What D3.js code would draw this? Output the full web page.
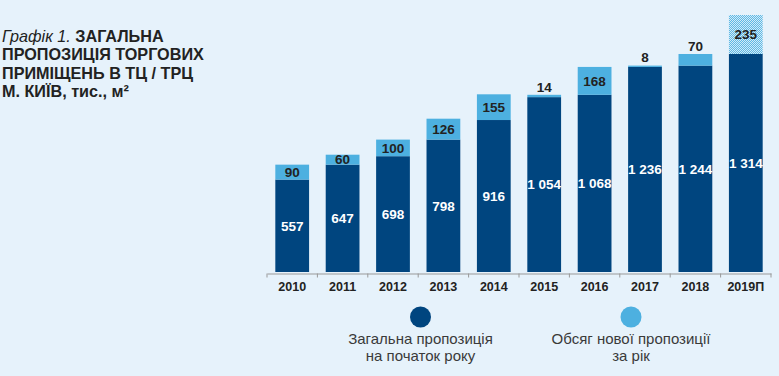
<!DOCTYPE html>
<html>
<head>
<meta charset="utf-8">
<script src="https://cdn.jsdelivr.net/npm/d3@7"></script>
<style>
  body { margin: 0; background: #e6f2fb; }
  svg { display: block; font-family: "Liberation Sans", Arial, sans-serif; }
</style>
</head>
<body>
<svg id="chart" width="779" height="376"></svg>
<script>
// Дані графіка
const years = ["2010", "2011", "2012", "2013", "2014", "2015", "2016", "2017", "2018", "2019П"];
const baseSupply = [557, 647, 698, 798, 916, 1054, 1068, 1236, 1244, 1314];
const newSupply = [90, 60, 100, 126, 155, 14, 168, 8, 70, 235];
const labelsAbove = ["2015", "2017", "2018"];
const forecastYear = "2019П";
const legendItems = [
  ["Загальна пропозиція", "на початок року"],
  ["Обсяг нової пропозиції", "за рік"]
];

const DARK = "#00457f", LIGHT = "#4db0e0", TEXT = "#222";
const fmt = v => d3.format(",")(v).replace(/,/g, " ");

const svg = d3.select("#chart");

// патерн для прогнозу
const pat = svg.append("defs").append("pattern")
  .attr("id", "checker").attr("width", 2).attr("height", 2)
  .attr("patternUnits", "userSpaceOnUse");
pat.append("rect").attr("width", 2).attr("height", 2).attr("fill", "#5fb8e4");
pat.append("rect").attr("width", 1).attr("height", 1).attr("fill", "#d2ebf8");
pat.append("rect").attr("x", 1).attr("y", 1).attr("width", 1).attr("height", 1).attr("fill", "#d2ebf8");

// Заголовок
const TITLE_SIZE = 16.2;
const title = svg.append("text").attr("x", 2).attr("y", 42)
  .attr("font-size", TITLE_SIZE).attr("fill", TEXT);
const titleLines = ["ЗАГАЛЬНА", "ПРОПОЗИЦІЯ ТОРГОВИХ", "ПРИМІЩЕНЬ В ТЦ / ТРЦ", "М. КИЇВ, тис., м²"];
title.append("tspan").attr("font-style", "italic").text("Графік 1. ");
title.append("tspan").attr("font-weight", "bold").text(titleLines[0]);
titleLines.slice(1).forEach((t, i) => {
  svg.append("text").attr("x", 2).attr("y", 60.3 + i * 18.3)
    .attr("font-size", TITLE_SIZE).attr("font-weight", "bold").attr("fill", TEXT).text(t);
});

// Шкали
const x = d3.scaleBand().domain(years).range([267, 771]).paddingInner(0.33).paddingOuter(0.165);
const y = d3.scaleLinear().domain([0, 1549]).range([272, 15]);

const data = years.map((yr, i) => ({ yr, base: baseSupply[i], add: newSupply[i] }));

const g = svg.append("g");

// Вісь
const axis = svg.append("g").attr("transform", "translate(0,273.5)")
  .call(d3.axisBottom(x).tickSize(0).tickPadding(9));
axis.select(".domain").attr("stroke", "#999");
axis.selectAll(".tick text").attr("font-size", 12.5).attr("font-weight", "bold")
  .attr("fill", TEXT).attr("font-family", "Liberation Sans, Arial, sans-serif");
const step = x.step();
const tickPos = years.map(yr => x(yr) - x.paddingInner() * step / 2).concat([x(years[years.length - 1]) + x.bandwidth() + x.paddingInner() * step / 2]);
axis.selectAll(".sep").data(tickPos).join("line").attr("class", "sep")
  .attr("x1", d => d).attr("x2", d => d).attr("y1", 0).attr("y2", 4).attr("stroke", "#999");

// Стовпчики
g.selectAll(".base").data(data).join("rect")
  .attr("x", d => x(d.yr)).attr("width", x.bandwidth())
  .attr("y", d => y(d.base)).attr("height", d => y(0) - y(d.base))
  .attr("fill", DARK);

g.selectAll(".add").data(data).join("rect")
  .attr("x", d => x(d.yr)).attr("width", x.bandwidth())
  .attr("y", d => y(d.base + d.add)).attr("height", d => y(d.base) - y(d.base + d.add))
  .attr("fill", d => d.yr === forecastYear ? "url(#checker)" : LIGHT);

// Підписи
g.selectAll(".lblBase").data(data).join("text")
  .attr("x", d => x(d.yr) + x.bandwidth() / 2)
  .attr("y", d => (y(0) + y(d.base)) / 2).attr("dy", "0.35em")
  .attr("text-anchor", "middle").attr("font-size", 13.5).attr("font-weight", "bold")
  .attr("fill", "#fff").text(d => fmt(d.base));

g.selectAll(".lblAdd").data(data).join("text")
  .attr("x", d => x(d.yr) + x.bandwidth() / 2)
  .attr("y", d => labelsAbove.includes(d.yr) ? y(d.base + d.add) - 8 : (y(d.base) + y(d.base + d.add)) / 2)
  .attr("dy", "0.35em")
  .attr("text-anchor", "middle").attr("font-size", 13.5).attr("font-weight", "bold")
  .attr("fill", TEXT).text(d => fmt(d.add));

// Легенда
const legX = [420.5, 631];
[DARK, LIGHT].forEach((c, i) => {
  svg.append("circle").attr("cx", legX[i]).attr("cy", 317).attr("r", 10.5).attr("fill", c);
  legendItems[i].forEach((t, j) => {
    svg.append("text").attr("x", legX[i]).attr("y", 344 + j * 16.5)
      .attr("text-anchor", "middle").attr("font-size", 15).attr("fill", "#3a3a3a").text(t);
  });
});
</script>
</body>
</html>
